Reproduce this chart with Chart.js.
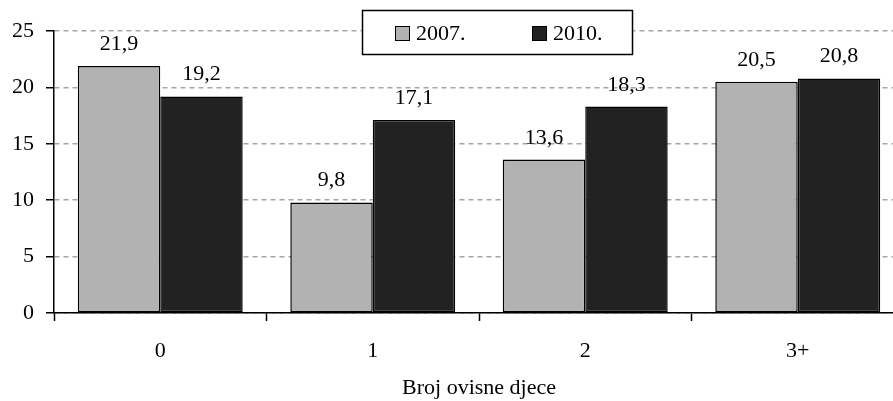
<!DOCTYPE html>
<html lang="hr">
<head>
    <meta charset="UTF-8">
    <title>Broj ovisne djece</title>
    <script src="https://cdn.jsdelivr.net/npm/chart.js@4.4.0/dist/chart.umd.min.js"></script>
    <style>
        html, body {
            margin: 0;
            padding: 0;
            background: #ffffff;
            overflow: hidden;
        }
        .wrap {
            position: relative;
            width: 920px;
            height: 401px;
        }
    </style>
</head>
<body>
    <div class="wrap">
        <canvas id="chart"></canvas>
    </div>

    <script>
        const categories = ['0', '1', '2', '3+'];
        const seriesNames = ['2007.', '2010.'];
        const values2007 = [21.9, 9.8, 13.6, 20.5];
        const values2010 = [19.2, 17.1, 18.3, 20.8];
        const yTicks = [0, 5, 10, 15, 20, 25];
        const colors = ['#b2b2b2', '#222222'];

        const FONT = "'Liberation Serif', 'Times New Roman', serif";

        // value labels above bars, decimal comma
        const valueLabels = {
            id: 'valueLabels',
            afterDatasetsDraw(chart) {
                const ctx = chart.ctx;
                ctx.save();
                ctx.font = '22px ' + FONT;
                ctx.fillStyle = '#000';
                ctx.textAlign = 'center';
                ctx.textBaseline = 'alphabetic';
                chart.data.datasets.forEach((ds, i) => {
                    chart.getDatasetMeta(i).data.forEach((bar, j) => {
                        const txt = ds.data[j].toFixed(1).replace('.', ',');
                        ctx.fillText(txt, bar.x, bar.y - 16);
                    });
                });
                ctx.restore();
            }
        };

        // boxed legend sitting over the top gridline
        const boxLegend = {
            id: 'boxLegend',
            afterDraw(chart) {
                const ctx = chart.ctx;
                ctx.save();
                ctx.fillStyle = '#fff';
                ctx.strokeStyle = '#000';
                ctx.lineWidth = 1.5;
                ctx.fillRect(362, 10, 270, 44);
                ctx.strokeRect(362.5, 10.5, 270, 44);
                ctx.font = '22px ' + FONT;
                ctx.textBaseline = 'alphabetic';
                ctx.textAlign = 'left';
                const xs = [395, 532];
                chart.data.datasets.forEach((ds, i) => {
                    ctx.fillStyle = ds.backgroundColor;
                    ctx.fillRect(xs[i], 26, 14, 14);
                    ctx.lineWidth = 1;
                    ctx.strokeRect(xs[i] + 0.5, 26.5, 14, 14);
                    ctx.fillStyle = '#000';
                    ctx.fillText(ds.label, xs[i] + 21, 40);
                });
                ctx.restore();
            }
        };

        new Chart(document.getElementById('chart'), {
            type: 'bar',
            data: {
                labels: categories,
                datasets: [
                    {
                        label: seriesNames[0],
                        data: values2007,
                        backgroundColor: colors[0],
                        borderColor: '#000',
                        borderWidth: 1.5,
                        borderSkipped: false
                    },
                    {
                        label: seriesNames[1],
                        data: values2010,
                        backgroundColor: colors[1],
                        borderColor: '#000',
                        borderWidth: 1.5,
                        borderSkipped: false
                    }
                ]
            },
            options: {
                responsive: true,
                maintainAspectRatio: false,
                animation: false,
                events: [],
                layout: { padding: { top: 31, right: 16, bottom: 0, left: 0 } },
                datasets: {
                    bar: { categoryPercentage: 0.776, barPercentage: 1.0 }
                },
                plugins: {
                    legend: { display: false },
                    tooltip: { enabled: false }
                },
                scales: {
                    x: {
                        offset: true,
                        grid: {
                            offset: true,
                            drawOnChartArea: false,
                            drawTicks: true,
                            tickLength: 8,
                            tickColor: '#000',
                            tickWidth: 1.5
                        },
                        border: { display: true, color: '#000', width: 1.5 },
                        ticks: {
                            color: '#000',
                            padding: 17,
                            font: { family: FONT, size: 22 }
                        },
                        title: {
                            display: true,
                            text: 'Broj ovisne djece',
                            color: '#000',
                            padding: { top: 0, bottom: 0 },
                            font: { family: FONT, size: 22 }
                        },
                        afterFit(axis) { axis.height = 88; }
                    },
                    y: {
                        min: 0,
                        max: 25,
                        afterBuildTicks(axis) {
                            axis.ticks = yTicks.map(v => ({ value: v }));
                        },
                        grid: {
                            color: '#a6a6a6',
                            lineWidth: 1.5,
                            drawTicks: true,
                            tickLength: 8,
                            tickColor: '#000',
                            tickWidth: 1.5,
                            tickBorderDash: []
                        },
                        border: { display: true, color: '#000', width: 1.5, dash: [5, 4] },
                        ticks: {
                            color: '#000',
                            padding: 12,
                            font: { family: FONT, size: 22 }
                        },
                        afterFit(axis) { axis.width = 54; }
                    }
                }
            },
            plugins: [valueLabels, boxLegend]
        });
    </script>
</body>
</html>
